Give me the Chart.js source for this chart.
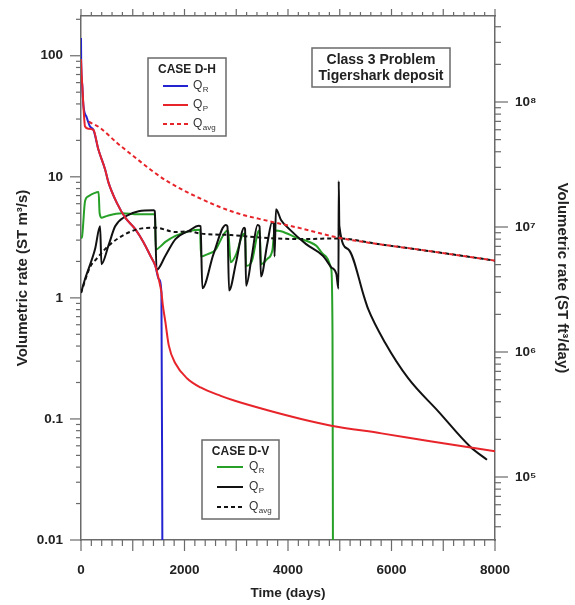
<!DOCTYPE html>
<html>
<head>
<meta charset="utf-8">
<title>Class 3 Problem - Tigershark deposit</title>
<script src="https://cdn.jsdelivr.net/npm/chart.js@4.4.1/dist/chart.umd.min.js"></script>
<style>
  html, body { margin: 0; padding: 0; background: #fff; }
  #wrap { width: 575px; height: 605px; position: relative; }
</style>
</head>
<body>
<div id="wrap"><canvas id="rateChart"></canvas></div>
<script>
// time in days, rates in ST m3/s

// CASE D-H
const dhQrTime = [0, 3, 26, 45, 110, 175, 240, 336, 466, 530, 700, 855, 1049, 1210, 1340, 1437, 1502, 1554, 1572];
const dhQrRate = [140, 94, 56, 39.5, 31, 26, 24.4, 16.8, 11.5, 9.0, 6.0, 4.6, 3.7, 2.87, 2.23, 1.84, 1.43, 1.11, 0.01];

const dhQpTime = [0, 10, 26, 45, 78, 142, 240, 336, 466, 530, 700, 855, 1049, 1210, 1340, 1437, 1502, 1554, 1580, 1631, 1696, 1825, 2052, 2311, 2700, 2958, 3606, 4253, 4836, 5807, 6778, 8000];
const dhQpRate = [94, 72, 56, 39.5, 26, 25, 24.4, 16.8, 11.5, 9.0, 6.0, 4.6, 3.7, 2.87, 2.23, 1.84, 1.43, 1.11, 0.88, 0.63, 0.405, 0.287, 0.216, 0.182, 0.155, 0.142, 0.118, 0.1, 0.088, 0.076, 0.065, 0.054];

const dhQavgTime = [150, 369, 693, 1016, 1340, 1664, 2311, 2958, 3606, 4253, 4965, 5700, 6453, 7200, 8000];
const dhQavgRate = [28.5, 25.4, 19.1, 14.8, 11.5, 9.2, 6.6, 5.1, 4.33, 3.75, 3.15, 2.8, 2.53, 2.28, 2.03];

// CASE D-V
const dvQrTime = [0, 20, 78, 140, 340, 360, 400, 530, 790, 1100, 1404, 1430, 1445, 1550, 1631, 1825, 2084, 2300, 2320, 2450, 2602, 2732, 2830, 2850, 2893, 3000, 3120, 3170, 3190, 3300, 3420, 3450, 3480, 3600, 3700, 3730, 3760, 3865, 4156, 4544, 4706, 4836, 4860, 4868];
const dvQrRate = [3.1, 3.2, 6.3, 6.9, 7.5, 5.0, 4.6, 4.8, 5.0, 4.9, 4.9, 4.8, 2.5, 2.7, 2.9, 3.25, 3.55, 3.65, 2.2, 2.3, 2.5, 3.2, 3.6, 3.4, 1.97, 2.3, 3.3, 3.4, 1.84, 2.0, 3.5, 3.6, 1.9, 2.1, 2.5, 3.4, 3.6, 3.55, 3.15, 2.7, 2.25, 1.73, 0.5, 0.01];

const dvQpTime = [0, 78, 272, 369, 395, 530, 660, 855, 1113, 1404, 1425, 1460, 1631, 1825, 2084, 2278, 2310, 2345, 2560, 2797, 2830, 2861, 3000, 3152, 3170, 3190, 3300, 3412, 3450, 3477, 3600, 3690, 3725, 3740, 3768, 3865, 4026, 4350, 4674, 4836, 4933, 4975, 4980, 4992, 5160, 5483, 5548, 5871, 6325, 6908, 7522, 7845];
const dvQpRate = [1.1, 1.43, 2.53, 3.9, 1.9, 2.7, 3.9, 4.7, 5.2, 5.3, 5.2, 1.7, 2.23, 3.06, 3.58, 3.94, 3.9, 1.2, 2.3, 4.0, 3.9, 1.15, 2.0, 3.8, 3.7, 1.26, 2.2, 4.0, 3.9, 1.5, 2.8, 4.2, 4.1, 2.2, 5.4, 4.4, 3.7, 2.78, 2.23, 1.79, 1.58, 1.19, 9.2, 3.94, 2.53, 0.98, 0.81, 0.43, 0.216, 0.115, 0.059, 0.046];

const dvQavgTime = [0, 175, 300, 530, 855, 1178, 1437, 1825, 2084, 2311, 2900, 3606, 4253, 4965, 5700, 6453, 7200, 8000];
const dvQavgRate = [1.1, 1.8, 2.1, 2.69, 3.36, 3.75, 3.8, 3.5, 3.55, 3.4, 3.3, 3.12, 3.06, 3.1, 2.8, 2.53, 2.28, 2.03];

// axis ticks
const xTickValues = [0, 2000, 4000, 6000, 8000];
const xTickLabels = ['0', '2000', '4000', '6000', '8000'];
const yTickValues = [0.01, 0.1, 1, 10, 100];
const yTickLabels = ['0.01', '0.1', '1', '10', '100'];
const y2TickValues = [1e5, 1e6, 1e7, 1e8];
const y2TickLabels = ['10\u2075', '10\u2076', '10\u2077', '10\u2078'];

const yMin = 0.01, yMax = 213;
const y2Min = Math.pow(10, 4.496), y2Max = Math.pow(10, 8.688);

const blue = '#2323d2';
const red = '#e8242b';
const green = '#26a026';
const black = '#111111';
const axisColor = '#6a6a6a';
const fontFamily = "'Liberation Sans', Arial, Helvetica, sans-serif";

function pts(ts, vs) {
    return ts.map((t, i) => ({ x: t, y: vs[i] }));
}

function logTicks(min, max) {
    const out = [];
    for (let e = Math.floor(Math.log10(min)); e <= Math.ceil(Math.log10(max)); e++) {
        for (let m = 1; m < 10; m++) {
            const v = m * Math.pow(10, e);
            if (v >= min * 0.999 && v <= max * 1.001) out.push({ value: v, major: m === 1 });
        }
    }
    return out;
}

function linTicks() {
    const out = [];
    for (let t = 0; t <= 8000; t += 200) out.push({ value: t, major: t % 1000 === 0 });
    return out;
}

function findLabel(values, labels, v) {
    const i = values.findIndex(x => Math.abs(x - v) <= Math.abs(x) * 1e-6);
    return i < 0 ? '' : labels[i];
}

// fixed axis sizes, no extra label overflow padding
function fixSize(prop, size) {
    return s => {
        s[prop] = size;
        s.paddingTop = 0;
        s.paddingBottom = 0;
        s.paddingLeft = 0;
        s.paddingRight = 0;
    };
}

// tick marks: long for majors, short for minors, pointing out of the frame
const tickLen = { x: [11, 6], x2: [7, 4], y: [11, 5], y2: [13, 6] };
const tickMarks = {
    id: 'tickMarks',
    afterDraw(chart) {
        const ctx = chart.ctx;
        ctx.save();
        ctx.strokeStyle = axisColor;
        ctx.lineWidth = 1.2;
        Object.keys(tickLen).forEach(id => {
            const scale = chart.scales[id];
            scale.ticks.forEach(t => {
                const p = scale.getPixelForValue(t.value);
                const len = t.major ? tickLen[id][0] : tickLen[id][1];
                ctx.beginPath();
                if (id === 'y') { ctx.moveTo(scale.right, p); ctx.lineTo(scale.right - len, p); }
                if (id === 'y2') { ctx.moveTo(scale.left, p); ctx.lineTo(scale.left + len, p); }
                if (id === 'x') { ctx.moveTo(p, scale.top); ctx.lineTo(p, scale.top + len); }
                if (id === 'x2') { ctx.moveTo(p, scale.bottom); ctx.lineTo(p, scale.bottom - len); }
                ctx.stroke();
            });
        });
        ctx.restore();
    }
};

// legend boxes and the title box
const legendBoxes = [
    { title: 'CASE D-H', box: [148, 58, 78, 78], titleY: 70, rows: [86, 105, 124], line: [163, 188], textX: 193, sets: [0, 1, 2] },
    { title: 'CASE D-V', box: [202, 440, 77, 79], titleY: 452, rows: [467, 487, 507], line: [217, 243], textX: 249, sets: [3, 4, 5] }
];
const boxes = {
    id: 'boxes',
    afterDraw(chart) {
        const ctx = chart.ctx;
        ctx.save();
        ctx.lineWidth = 1.5;
        ctx.strokeStyle = axisColor;

        // title box
        ctx.fillStyle = '#fff';
        ctx.fillRect(312, 48, 138, 39);
        ctx.strokeRect(312, 48, 138, 39);
        ctx.fillStyle = '#222';
        ctx.font = 'bold 14px ' + fontFamily;
        ctx.textAlign = 'center';
        ctx.textBaseline = 'middle';
        ctx.fillText('Class 3 Problem', 381, 60);
        ctx.fillText('Tigershark deposit', 381, 76);

        legendBoxes.forEach(lb => {
            const [bx, by, bw, bh] = lb.box;
            ctx.lineWidth = 1.5;
            ctx.strokeStyle = axisColor;
            ctx.setLineDash([]);
            ctx.fillStyle = '#fff';
            ctx.fillRect(bx, by, bw, bh);
            ctx.strokeRect(bx, by, bw, bh);
            ctx.fillStyle = '#222';
            ctx.font = 'bold 12px ' + fontFamily;
            ctx.textAlign = 'center';
            ctx.fillText(lb.title, bx + bw / 2, lb.titleY);
            lb.sets.forEach((di, k) => {
                const ds = chart.data.datasets[di];
                const y = lb.rows[k];
                ctx.strokeStyle = ds.borderColor;
                ctx.lineWidth = 2;
                ctx.setLineDash(ds.borderDash || []);
                ctx.beginPath();
                ctx.moveTo(lb.line[0], y);
                ctx.lineTo(lb.line[1], y);
                ctx.stroke();
                ctx.setLineDash([]);
                ctx.fillStyle = '#333';
                ctx.textAlign = 'left';
                ctx.font = '12px ' + fontFamily;
                ctx.fillText('Q', lb.textX, y);
                const w = ctx.measureText('Q').width;
                ctx.font = '8px ' + fontFamily;
                ctx.fillText(ds.sub, lb.textX + w + 0.5, y + 4);
            });
        });
        ctx.restore();
    }
};

const tickFont = { family: fontFamily, size: 13.5, weight: 'bold' };

new Chart(document.getElementById('rateChart'), {
    type: 'line',
    data: {
        datasets: [
            { label: 'D-H QR', sub: 'R', data: pts(dhQrTime, dhQrRate), borderColor: blue, order: 3 },
            { label: 'D-H QP', sub: 'P', data: pts(dhQpTime, dhQpRate), borderColor: red, order: 2 },
            { label: 'D-H Qavg', sub: 'avg', data: pts(dhQavgTime, dhQavgRate), borderColor: red, borderDash: [4, 3], order: 0 },
            { label: 'D-V QR', sub: 'R', data: pts(dvQrTime, dvQrRate), borderColor: green, order: 5 },
            { label: 'D-V QP', sub: 'P', data: pts(dvQpTime, dvQpRate), borderColor: black, order: 4 },
            { label: 'D-V Qavg', sub: 'avg', data: pts(dvQavgTime, dvQavgRate), borderColor: black, borderDash: [4, 3], order: 1 }
        ]
    },
    options: {
        responsive: true,
        maintainAspectRatio: false,
        animation: false,
        layout: { padding: 0 },
        elements: {
            point: { radius: 0 },
            line: { borderWidth: 2, cubicInterpolationMode: 'monotone', fill: false }
        },
        plugins: {
            legend: { display: false },
            tooltip: { enabled: false }
        },
        scales: {
            x: {
                type: 'linear',
                position: 'bottom',
                min: 0,
                max: 8000,
                afterBuildTicks: s => { s.ticks = linTicks(); },
                afterFit: fixSize('height', 65),
                grid: { display: false, drawTicks: false },
                border: { display: true, color: axisColor, width: 1.5 },
                ticks: {
                    autoSkip: false,
                    maxRotation: 0,
                    padding: 22,
                    color: '#222',
                    font: tickFont,
                    callback: v => findLabel(xTickValues, xTickLabels, v)
                },
                title: {
                    display: true,
                    text: 'Time (days)',
                    color: '#222',
                    font: { family: fontFamily, size: 13.5, weight: 'bold' },
                    padding: { top: 0, bottom: 4 }
                }
            },
            x2: {
                type: 'linear',
                position: 'top',
                min: 0,
                max: 8000,
                afterBuildTicks: s => { s.ticks = linTicks(); },
                afterFit: fixSize('height', 16),
                grid: { display: false, drawTicks: false },
                border: { display: true, color: axisColor, width: 1.5 },
                ticks: { display: false }
            },
            y: {
                type: 'logarithmic',
                position: 'left',
                min: yMin,
                max: yMax,
                afterBuildTicks: s => { s.ticks = logTicks(yMin, yMax); },
                afterFit: fixSize('width', 81),
                grid: { display: false, drawTicks: false },
                border: { display: true, color: axisColor, width: 1.5 },
                ticks: {
                    autoSkip: false,
                    padding: 18,
                    color: '#222',
                    font: tickFont,
                    callback: v => findLabel(yTickValues, yTickLabels, v)
                },
                title: {
                    display: true,
                    text: 'Volumetric rate (ST m\u00b3/s)',
                    color: '#222',
                    font: { family: fontFamily, size: 15, weight: 'bold' },
                    padding: { top: 14, bottom: 0 }
                }
            },
            y2: {
                type: 'logarithmic',
                position: 'right',
                min: y2Min,
                max: y2Max,
                afterBuildTicks: s => { s.ticks = logTicks(y2Min, y2Max); },
                afterFit: fixSize('width', 80),
                grid: { display: false, drawTicks: false },
                border: { display: true, color: axisColor, width: 1.5 },
                ticks: {
                    autoSkip: false,
                    padding: 20,
                    color: '#222',
                    font: tickFont,
                    callback: v => findLabel(y2TickValues, y2TickLabels, v)
                },
                title: {
                    display: true,
                    text: 'Volumetric rate (ST ft\u00b3/day)',
                    color: '#222',
                    font: { family: fontFamily, size: 15, weight: 'bold' },
                    padding: { top: 4, bottom: 0 }
                }
            }
        }
    },
    plugins: [tickMarks, boxes]
});
</script>
</body>
</html>
